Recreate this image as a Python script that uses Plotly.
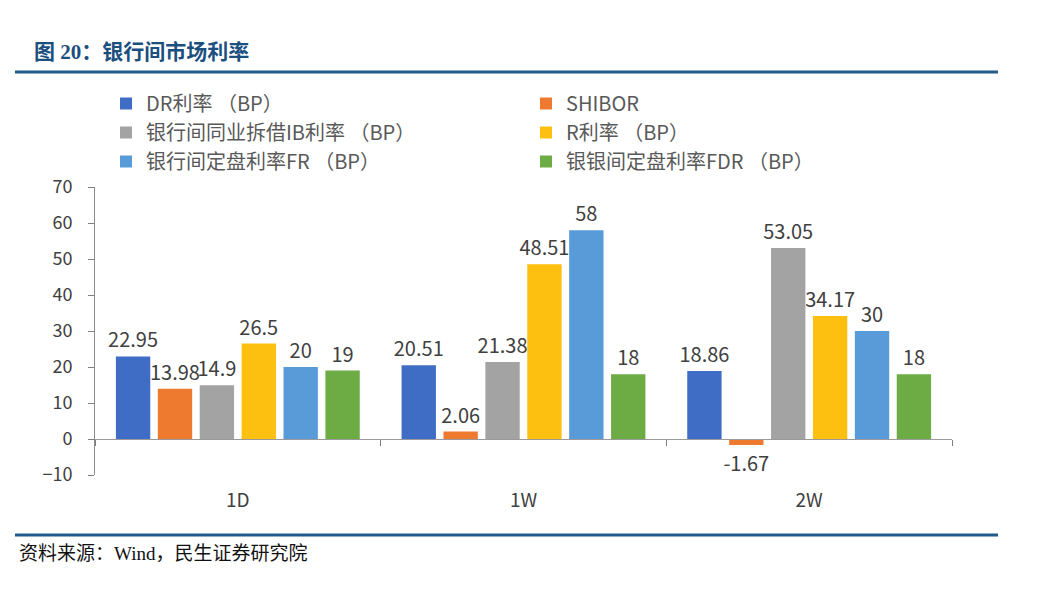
import plotly.graph_objects as go

categories = ["1D", "1W", "2W"]
series_names = ["DR利率 （BP）", "SHIBOR", "银行间同业拆借IB利率 （BP）", "R利率 （BP）",
                "银行间定盘利率FR （BP）", "银银间定盘利率FDR （BP）"]
dr_vals = [22.95, 20.51, 18.86]
shibor_vals = [13.98, 2.06, -1.67]
ib_vals = [14.9, 21.38, 53.05]
r_vals = [26.5, 48.51, 34.17]
fr_vals = [20, 58, 30]
fdr_vals = [19, 18, 18]
colors = ["#3F6DC6", "#EE7A30", "#A3A3A3", "#FDC010", "#589BD8", "#6DAC45"]
legend_ids = ["legend", "legend2", "legend", "legend2", "legend", "legend2"]

all_vals = [dr_vals, shibor_vals, ib_vals, r_vals, fr_vals, fdr_vals]

FONT = "Noto Sans CJK SC, Noto Sans, sans-serif"
# the page body has an 8px margin; plot area spans x 95..952, y 187..475 in the window
fig = go.Figure()
for i, (name, vals) in enumerate(zip(series_names, all_vals)):
    fig.add_trace(go.Bar(
        x=categories, y=vals, name=name,
        marker=dict(color=colors[i], line=dict(width=0)),
        text=[f"{v:g}" for v in vals], textposition="outside", constraintext="none",
        textfont=dict(size=20, color="#404040", family=FONT),
        cliponaxis=False, legend=legend_ids[i], legendgroup=f"g{i}",
    ))

PW, PH = 857, 288
X0, YB = 95, 475


def px_x(x):
    return (x - X0) / PW


def px_y(y):
    return (YB - y) / PH


legend_common = dict(yanchor="top", orientation="v", xanchor="left",
                     font=dict(size=20, color="#595959", family=FONT), tracegroupgap=0,
                     itemwidth=30, bgcolor="rgba(0,0,0,0)")
fig.update_layout(
    width=1056, height=581,
    paper_bgcolor="white", plot_bgcolor="white",
    margin=dict(l=87, r=112, t=179, b=114),
    barmode="group", bargap=0.12, bargroupgap=0.18,
    font=dict(family=FONT, color="#404040"),
    legend=dict(x=px_x(106), y=px_y(84), **legend_common),
    legend2=dict(x=px_x(526), y=px_y(84), **legend_common),
    xaxis=dict(anchor="free", position=0.125, showline=True, linecolor="#9A9A9A", linewidth=1,
               ticks="outside", tickson="boundaries", ticklen=6, tickcolor="#7F7F7F",
               ticklabelstandoff=44, tickfont=dict(size=19, color="#404040"), showgrid=False),
    yaxis=dict(range=[-10, 70], dtick=10, showline=True, linecolor="#8C8C8C", linewidth=1,
               ticks="outside", ticklen=6, tickcolor="#7F7F7F", showgrid=False, zeroline=False,
               ticklabelstandoff=12, tickfont=dict(size=18, color="#404040")),
    showlegend=True,
)

fig.add_annotation(xref="paper", yref="paper", x=px_x(32), y=px_y(52),
                   xanchor="left", yanchor="middle", showarrow=False,
                   text="<b>图 20：银行间市场利率</b>",
                   font=dict(size=21, color="#1B4F80", family="Liberation Serif, Noto Sans CJK SC"))
fig.add_annotation(xref="paper", yref="paper", x=px_x(17), y=px_y(553),
                   xanchor="left", yanchor="middle", showarrow=False,
                   text="资料来源：Wind，民生证券研究院",
                   font=dict(size=19, color="#111111", family="Liberation Serif, Noto Sans CJK SC"))
for ypx in (72, 535):
    fig.add_shape(type="line", xref="paper", yref="paper",
                  x0=px_x(15), x1=px_x(998), y0=px_y(ypx), y1=px_y(ypx),
                  line=dict(color="#1F5A8A", width=3))

fig.write_html("out.html")
